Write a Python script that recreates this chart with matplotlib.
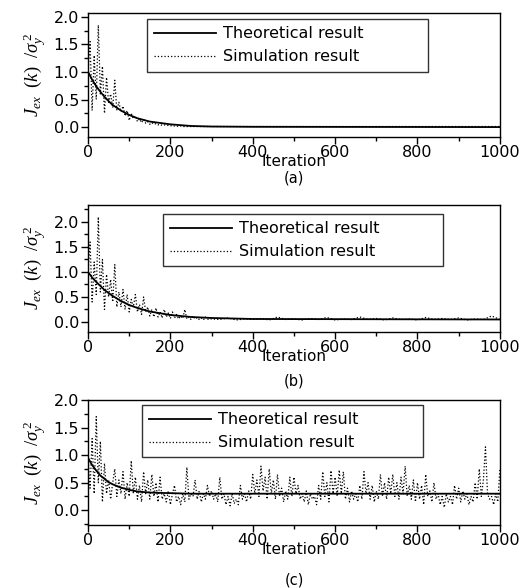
import numpy as np
import matplotlib
matplotlib.use('Agg')
import matplotlib.pyplot as plt
from matplotlib.ticker import MultipleLocator

plt.rcParams['font.family'] = ['DejaVu Sans']
plt.rcParams['mathtext.fontset'] = 'custom'
plt.rcParams['mathtext.it'] = 'Liberation Serif:italic'
plt.rcParams['mathtext.rm'] = 'Liberation Serif'

# theoretical curves
k_theo = [0, 10, 20, 30, 40, 50, 60, 80, 100, 120, 150, 200, 250, 300, 400, 1000]
theo_a = [1.0, 0.86, 0.74, 0.64, 0.55, 0.47, 0.40, 0.30, 0.22, 0.16, 0.10, 0.05, 0.02, 0.01, 0.005, 0.0]
theo_b = [1.0, 0.89, 0.80, 0.72, 0.64, 0.58, 0.52, 0.42, 0.34, 0.28, 0.21, 0.14, 0.10, 0.08, 0.06, 0.05]
theo_c = [0.95, 0.82, 0.72, 0.63, 0.57, 0.51, 0.47, 0.41, 0.37, 0.34, 0.32, 0.31, 0.30, 0.30, 0.30, 0.30]

# simulation (a): dense part every 5 iterations, then the flat tail
k_a = list(range(0, 255, 5)) + [300, 400, 500, 600, 700, 800, 900, 1000]
sim_a = [1.0, 1.55, 0.3, 1.3, 0.5, 1.85, 0.6, 1.1, 0.25, 0.9,
         0.45, 0.6, 0.35, 0.85, 0.3, 0.45, 0.28, 0.38, 0.2, 0.3,
         0.12, 0.25, 0.15, 0.2, 0.1, 0.15, 0.08, 0.14, 0.07, 0.1,
         0.05, 0.08, 0.05, 0.06, 0.04, 0.05, 0.03, 0.04, 0.03, 0.03,
         0.02, 0.03, 0.02, 0.02, 0.01, 0.02, 0.01, 0.01, 0.01, 0.01,
         0.01,
         0.01, 0.01, 0.01, 0.01, 0.01, 0.01, 0.01, 0.01]

# simulation (b)
k_b = list(range(0, 305, 5)) + list(range(320, 1001, 20))
sim_b = [1.0, 1.6, 0.4, 1.2, 0.55, 2.1, 0.6, 1.25, 0.25, 0.95,
         0.5, 0.85, 0.4, 1.15, 0.3, 0.6, 0.3, 0.65, 0.25, 0.55,
         0.2, 0.45, 0.3, 0.55, 0.2, 0.35, 0.15, 0.5, 0.2, 0.3,
         0.12, 0.25, 0.1, 0.28, 0.1, 0.2, 0.08, 0.25, 0.1, 0.18,
         0.07, 0.2, 0.08, 0.15, 0.06, 0.12, 0.07, 0.25, 0.06, 0.1,
         0.05, 0.12, 0.06, 0.09, 0.05, 0.08, 0.04, 0.1, 0.05, 0.07,
         0.06,
         0.05, 0.08, 0.04, 0.06, 0.05, 0.07, 0.04, 0.1, 0.05, 0.06,
         0.04, 0.07, 0.05, 0.09, 0.04, 0.06, 0.05, 0.1, 0.05, 0.07,
         0.04, 0.08, 0.05, 0.06, 0.04, 0.09, 0.05, 0.07, 0.05, 0.08,
         0.04, 0.06, 0.05, 0.12, 0.05]

# simulation (c), every 5 iterations
k_c = list(range(0, 1001, 5))
sim_c = [0.95, 0.4, 1.3, 0.3, 1.7, 0.5, 1.25, 0.15, 0.85, 0.3,
         0.55, 0.2, 0.5, 0.75, 0.25, 0.55, 0.3, 0.7, 0.2, 0.5, 0.25,
         0.9, 0.3, 0.6, 0.2, 0.45, 0.15, 0.7, 0.3, 0.55, 0.2,
         0.65, 0.25, 0.5, 0.15, 0.6, 0.2, 0.3, 0.15, 0.35, 0.1,
         0.3, 0.45, 0.15, 0.25, 0.1, 0.3, 0.15, 0.78, 0.2, 0.3,
         0.25, 0.55, 0.2, 0.35, 0.15, 0.3, 0.2, 0.45, 0.25, 0.35,
         0.2, 0.3, 0.15, 0.6, 0.2, 0.3, 0.1, 0.25, 0.08, 0.3,
         0.12, 0.2, 0.1, 0.45, 0.2, 0.3, 0.15, 0.35, 0.2, 0.65,
         0.3, 0.55, 0.25, 0.8, 0.35, 0.6, 0.2, 0.75, 0.3, 0.55,
         0.2, 0.65, 0.25, 0.4, 0.15, 0.35, 0.2, 0.6, 0.25, 0.6,
         0.3, 0.45, 0.2, 0.3, 0.15, 0.35, 0.1, 0.3, 0.2, 0.25,
         0.1, 0.45, 0.2, 0.7, 0.25, 0.5, 0.15, 0.72, 0.3, 0.6,
         0.25, 0.73, 0.3, 0.7, 0.2, 0.4, 0.15, 0.35, 0.2, 0.3,
         0.15, 0.45, 0.2, 0.7, 0.3, 0.5, 0.2, 0.45, 0.15, 0.35,
         0.2, 0.65, 0.25, 0.5, 0.2, 0.6, 0.3, 0.65, 0.25, 0.5,
         0.2, 0.6, 0.3, 0.8, 0.25, 0.45, 0.2, 0.55, 0.15, 0.5,
         0.2, 0.45, 0.1, 0.65, 0.25, 0.35, 0.15, 0.5, 0.2, 0.3,
         0.1, 0.25, 0.05, 0.3, 0.15, 0.25, 0.1, 0.45, 0.2, 0.4,
         0.15, 0.35, 0.2, 0.3, 0.1, 0.25, 0.15, 0.5, 0.2, 0.75,
         0.25, 0.55, 1.15, 0.3, 0.2, 0.25, 0.1, 0.3, 0.15, 0.75]

panels = [
    (k_a, sim_a, theo_a, '(a)', (-0.18, 2.07), [0.1686, 0.767, 0.789, 0.211], (0.143, 0.95, 0.682)),
    (k_b, sim_b, theo_b, '(b)', (-0.2, 2.34), [0.1686, 0.4354, 0.789, 0.216], (0.182, 0.929, 0.680)),
    (k_c, sim_c, theo_c, '(c)', (-0.27, 2.0), [0.1686, 0.107, 0.789, 0.2126], (0.131, 0.96, 0.682)),
]
cap_y = [0.698, 0.352, 0.0136]

fig = plt.figure(figsize=(5.22, 5.88), dpi=100)

for i, (k, sim, theo, cap, ylim, pos, leg) in enumerate(panels):
    ax = fig.add_axes(pos)
    ax.plot(k_theo, theo, color='black', lw=1.3, label='Theoretical result')
    ax.plot(k, sim, color='black', lw=0.9, ls=':', label='Simulation result')
    ax.set_xlim(0, 1000)
    ax.set_ylim(*ylim)
    ax.xaxis.set_major_locator(MultipleLocator(200))
    ax.xaxis.set_minor_locator(MultipleLocator(100))
    ax.yaxis.set_minor_locator(MultipleLocator(0.25))
    ax.set_yticks([0.0, 0.5, 1.0, 1.5, 2.0])
    ax.set_yticklabels(['0.0', '0.5', '1.0', '1.5', '2.0'])
    ax.tick_params(which='both', direction='out', labelsize=11.5, width=1.0, pad=1.5)
    ax.tick_params(axis='x', pad=0.5)
    ax.tick_params(which='major', length=5)
    ax.tick_params(which='minor', length=3)
    for s in ax.spines.values():
        s.set_linewidth(1.0)
    ax.set_xlabel('Iteration', fontsize=11, labelpad=-4)
    ax.set_ylabel(r'$J_{ex}\ \ (k)\ \ /\sigma^{\,2}_{y}$', fontsize=13.5, labelpad=3)
    lg = ax.legend(loc='upper left', bbox_to_anchor=(leg[0], leg[1], leg[2], 0),
                   mode='expand', fontsize=11.5, frameon=True, fancybox=False,
                   edgecolor='black', handlelength=3.9, handletextpad=0.4,
                   borderpad=0.45, borderaxespad=0)
    lg.get_frame().set_linewidth(1.0)
    fig.text(pos[0] + pos[2] / 2, cap_y[i], cap, ha='center', va='center', fontsize=10.5)

fig.savefig('out.png', dpi=100)
